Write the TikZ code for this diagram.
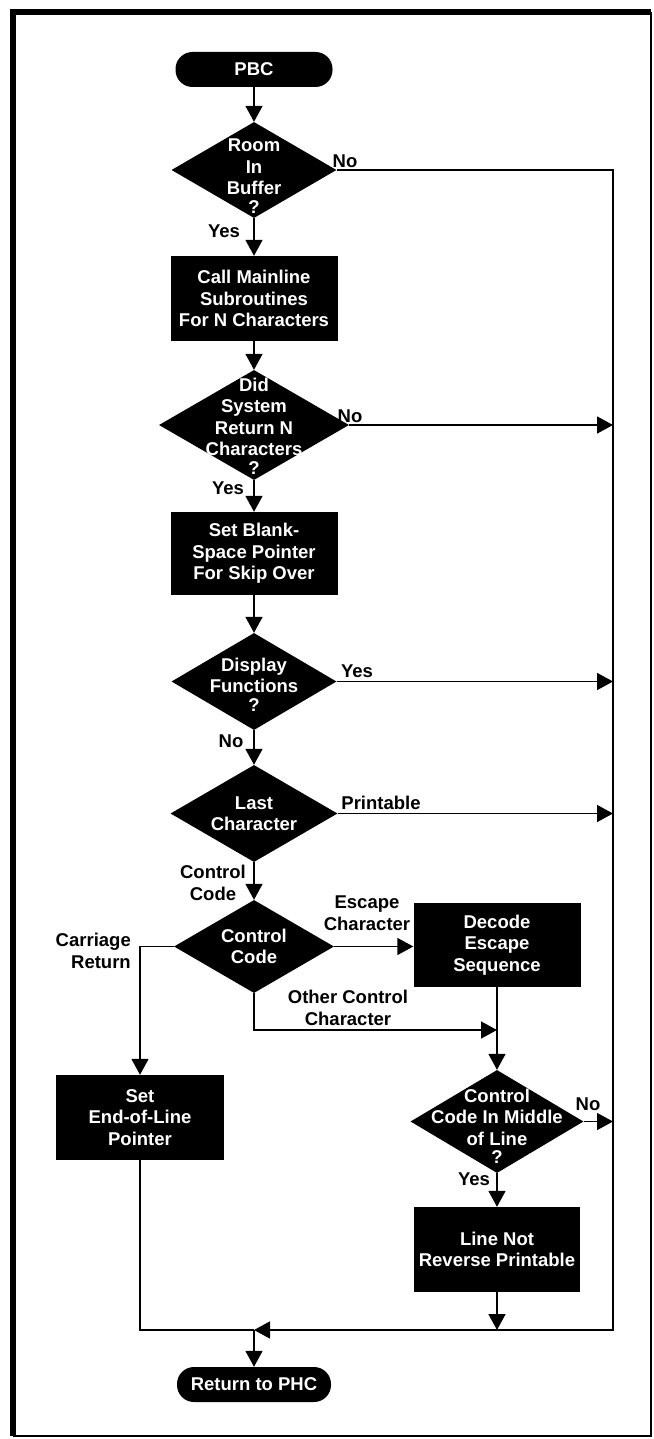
\documentclass[tikz,border=0pt]{standalone}
\usepackage{fontspec}
\setmainfont{Liberation Sans}
\usetikzlibrary{shapes.geometric,arrows.meta}
\begin{document}
\begin{tikzpicture}[x=1pt,y=-1pt,
  txt/.style={font=\bfseries\fontsize{18.5}{21.5}\selectfont, align=center, inner sep=0pt},
  box/.style={txt, rectangle, fill=black, text=white, minimum width=167pt, minimum height=84pt},
  term/.style={txt, rectangle, rounded corners=17pt, fill=black, text=white, minimum height=35pt},
  dia/.style={diamond, fill=black, inner sep=0pt},
  dtext/.style={txt, text=white},
  lab/.style={txt, text=black},
  conn/.style={line width=1.6pt},
  arr/.style={conn, -{Triangle[length=16pt,width=17pt]}}]
\useasboundingbox (0,0) rectangle (653,1439);
% frame
\draw[line width=6pt] (13,1436) -- (13,12) -- (651,12);
\draw[line width=2.5pt] (651,12) -- (651,1436) -- (13,1436);

% nodes
\node[term, minimum width=157pt] (pbc) at (254,69.5) {PBC};
\node[dia, minimum width=165pt, minimum height=96pt,
  label={[dtext,yshift=-6pt]center:{Room\\In\\Buffer\\[-3pt]?}}] (d1) at (254,170) {};
\node[box, minimum height=85pt] (box2) at (254,298.5) {Call Mainline\\Subroutines\\For N Characters};
\node[dia, minimum width=190pt, minimum height=110pt,
  label={[dtext,yshift=-1pt]center:{Did\\System\\Return N\\Characters\\[-3pt]?}}] (d2) at (254,425) {};
\node[box, minimum height=83pt] (box3) at (254,553.5) {Set Blank-\\Space Pointer\\For Skip Over};
\node[dia, minimum width=165pt, minimum height=97pt,
  label={[dtext,yshift=-3pt]center:{Display\\Functions\\[-3pt]?}}] (d3) at (254,681.5) {};
\node[dia, minimum width=167pt, minimum height=97pt,
  label={[dtext]center:{Last\\Character}}] (d4) at (254,813.5) {};
\node[dia, minimum width=160pt, minimum height=93pt,
  label={[dtext]center:{Control\\Code}}] (d5) at (254,946.5) {};
\node[box] (dec) at (497,945) {Decode\\Escape\\Sequence};
\node[box, minimum width=168pt, minimum height=85pt] (eol) at (140,1117.5) {Set\\End-of-Line\\Pointer};
\node[dia, minimum width=173pt, minimum height=103pt,
  label={[dtext,yshift=-5pt]center:{Control\\Code In Middle\\of Line\\[-3pt]?}}] (d6) at (497,1121.5) {};
\node[box, minimum width=166pt, minimum height=85pt] (lnp) at (497,1249.5) {Line Not\\Reverse Printable};
\node[term, minimum width=154pt] (ret) at (254,1384.5) {Return to PHC};

% labels
\node[lab] (l1n) at (345,161) {No};
\node[lab] (l1y) at (224,231) {Yes};
\node[lab] (l2n) at (350,416) {No};
\node[lab] (l2y) at (228,488) {Yes};
\node[lab] (l3y) at (357,671) {Yes};
\node[lab] (l3n) at (231,741) {No};
\node[lab] (l4p) at (381,803) {Printable};
\node[lab] (l4c) at (213,883) {Control\\Code};
\node[lab] (l5e) at (367,913) {Escape\\Character};
\node[lab, align=right, anchor=east] (l5c) at (131,951) {Carriage\\Return};
\node[lab] (l5o) at (348,1008) {Other Control\\Character};
\node[lab] (l6n) at (588,1104) {No};
\node[lab] (l6y) at (474,1179) {Yes};

% coordinates
\coordinate (rtop) at (613,170);
\coordinate (rbot) at (613,1330);
\coordinate (junc) at (254,1330);
\coordinate (oc) at (497,1030);

% connectors
\draw[arr] (pbc) -- (d1);
\draw[arr] (d1) -- (box2);
\draw[arr] (box2) -- (d2);
\draw[arr] (d2) -- (box3);
\draw[arr] (box3) -- (d3);
\draw[arr] (d3) -- (d4);
\draw[arr] (d4) -- (d5);
\draw[arr] (d5.east) -- (d5.east -| dec.west);
\draw[arr] (d5.west) -| (eol.north);
\draw[arr] (d5.south) |- (oc);
\draw[arr] (dec) -- (d6);
\draw[arr] (d6) -- (lnp);
\draw[arr] (lnp.south) -- (lnp.south |- junc);
\draw[conn] (eol.south) |- (junc);
\draw[arr] (d1.east) -- (rtop) -- (rbot) -- (junc);
\draw[arr] (d2.east) -- (d2.east -| rtop);
\draw[arr] (d3.east) -- (d3.east -| rtop);
\draw[arr] (d4.east) -- (d4.east -| rtop);
\draw[arr] (d6.east) -- (d6.east -| rtop);
\draw[arr] (junc) -- (ret);
\end{tikzpicture}
\end{document}
